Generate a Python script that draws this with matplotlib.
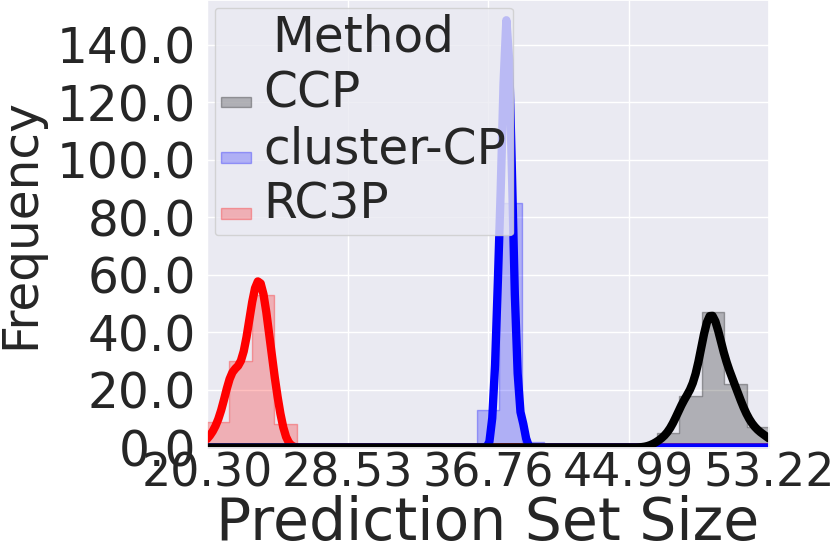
import numpy as np
import pandas as pd
import matplotlib
matplotlib.use("Agg")
import matplotlib.pyplot as plt
import seaborn as sns
from matplotlib.colors import to_rgba
from matplotlib.ticker import FormatStrFormatter

METHODS = ["CCP", "cluster-CP", "RC3P"]
COLORS = {"CCP": "black", "cluster-CP": "blue", "RC3P": "red"}

# prediction set sizes over the runs, as (size, number of runs)
ccp_sizes = [46.8, 47.2, 47.5, 47.8,
             48.1, 48.3, 48.5, 48.8, 49.1,
             49.35, 49.5, 49.65, 49.8, 49.95, 50.1, 50.3, 50.5,
             50.65, 50.8, 51.0, 51.2, 51.4, 51.6, 51.8,
             52.0, 52.3, 52.7, 53.0, 53.22]
ccp_counts = [1, 1, 1, 2,
              3, 4, 4, 3, 4,
              5, 6, 7, 8, 8, 7, 4, 2,
              4, 4, 4, 4, 3, 2, 1,
              2, 2, 1, 1, 1]

cluster_sizes = [37.04, 37.13, 37.22, 37.31, 37.39,
                 37.49, 37.58, 37.67, 37.76, 37.85, 37.94, 38.03, 38.12, 38.21,
                 38.30, 38.39, 38.48, 38.57,
                 38.76, 38.85]
cluster_counts = [1, 1, 2, 3, 6,
                  5, 7, 9, 11, 11, 11, 9, 8, 5,
                  4, 2, 2, 1,
                  1, 1]

rc3p_sizes = [20.30, 20.7, 20.9, 21.1, 21.3, 21.55,
              21.65, 21.7, 21.9, 22.1, 22.16, 22.3, 22.36, 22.5, 22.56, 22.7, 22.76,
              22.96, 23.16, 23.36, 23.56, 23.76, 23.96,
              24.26, 24.36, 24.4, 24.56]
rc3p_counts = [1, 1, 1, 2, 2, 2,
               2, 5, 4, 3, 1, 2, 2, 1, 4, 1, 5,
               9, 10, 10, 10, 8, 6,
               4, 2, 1, 1]

N_BINS = 25
XTICK_SIZE = 33
YTICK_SIZE = 35
LEGEND_SIZE = 35
LABEL_SIZE = 42

def expand(sizes, counts, name):
	vals = np.repeat(sizes, counts)
	return pd.DataFrame({"Prediction Set Size": vals, "Method": name})

df = pd.concat([expand(ccp_sizes, ccp_counts, "CCP"),
                expand(cluster_sizes, cluster_counts, "cluster-CP"),
                expand(rc3p_sizes, rc3p_counts, "RC3P")], ignore_index=True)

sns.set_theme(style="darkgrid")
plt.rcParams["legend.fontsize"] = 11
plt.rcParams["legend.title_fontsize"] = 11

fig = plt.figure(figsize=(8.3, 5.56), dpi=100)
ax = fig.add_axes([207 / 830, 108.5 / 556, 562 / 830, 447.5 / 556])

sns.histplot(data=df, x="Prediction Set Size", hue="Method", hue_order=METHODS,
             palette=COLORS, bins=N_BINS, element="step", kde=True,
             line_kws={"linewidth": 6}, ax=ax)

# soften the step outlines, they are barely darker than the fill
for coll in ax.collections:
	fc = coll.get_facecolor()
	if len(fc):
		coll.set_edgecolor(to_rgba(fc[0][:3], 0.3))

lo = df["Prediction Set Size"].min()
hi = df["Prediction Set Size"].max()
ax.set_xlim(lo, hi)
ax.set_ylim(0, 155.6)
ax.set_xticks(np.linspace(lo, hi, 5))
ax.set_yticks(np.arange(0, 141, 20))
ax.xaxis.set_major_formatter(FormatStrFormatter("%.2f"))
ax.yaxis.set_major_formatter(FormatStrFormatter("%.1f"))
ax.tick_params(length=0)
ax.tick_params(axis="x", labelsize=XTICK_SIZE, pad=3)
ax.tick_params(axis="y", labelsize=YTICK_SIZE, pad=8)
ax.set_xlabel("Prediction Set Size", fontsize=LABEL_SIZE, labelpad=-1)
ax.set_ylabel("Frequency", fontsize=LEGEND_SIZE, labelpad=9)

sns.move_legend(ax, "upper left")
leg = ax.get_legend()
plt.setp(leg.get_texts(), fontsize=LEGEND_SIZE)
plt.setp(leg.get_title(), fontsize=LEGEND_SIZE)
for h in leg.legend_handles:
	fc = h.get_facecolor()
	h.set_edgecolor(to_rgba(fc[:3], 0.3))

fig.savefig("out.png", dpi=100)
